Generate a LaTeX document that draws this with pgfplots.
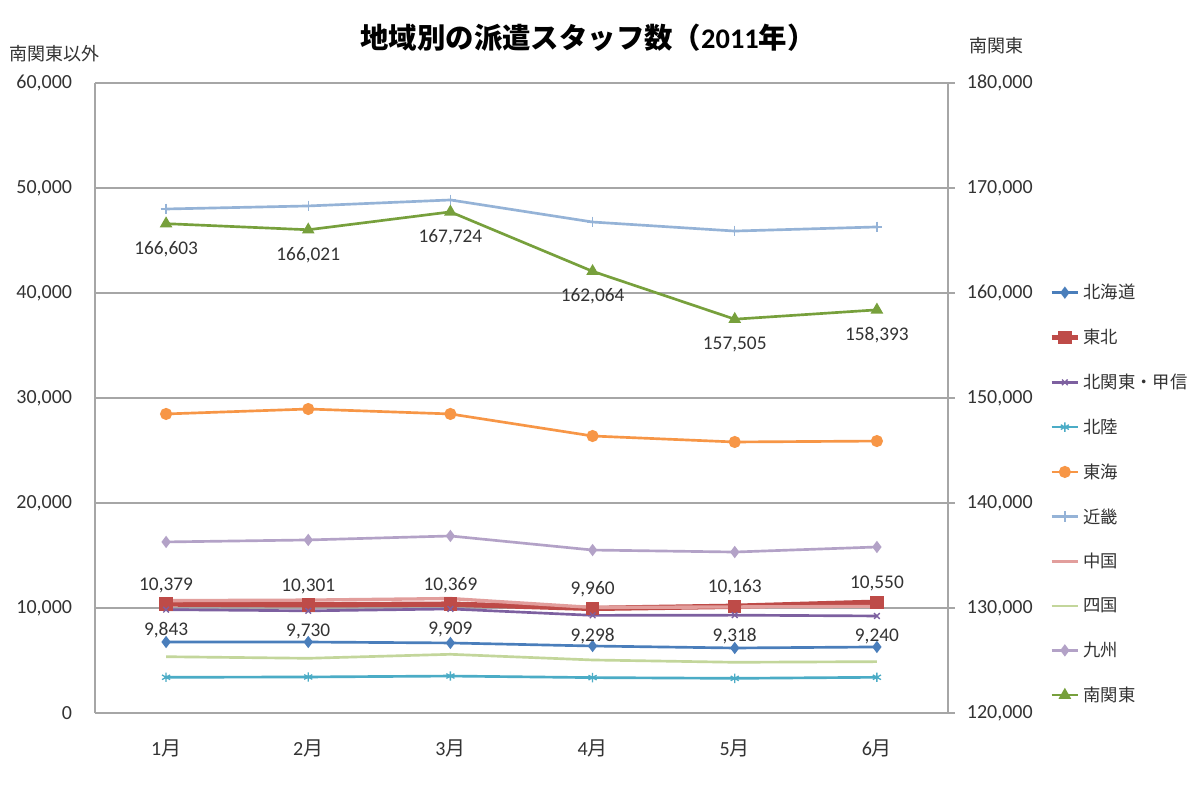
\documentclass[border=0pt]{standalone}
\usepackage{fontspec}
\setmainfont{Carlito}
\newfontfamily\jp{Noto Sans CJK JP}
\usepackage{pgfplots}
\pgfplotsset{compat=1.18}
\definecolor{cHok}{HTML}{4A7EBB}
\definecolor{cToh}{HTML}{BE4B48}
\definecolor{cKit}{HTML}{7D60A0}
\definecolor{cHkr}{HTML}{4BACC6}
\definecolor{cTok}{HTML}{F79646}
\definecolor{cKin}{HTML}{95B3D7}
\definecolor{cChu}{HTML}{E29E9C}
\definecolor{cShi}{HTML}{C3D69B}
\definecolor{cKyu}{HTML}{B3A2C7}
\definecolor{cMin}{HTML}{77A03C}
\definecolor{cGrid}{HTML}{A6A6A6}
\definecolor{cTxt}{HTML}{333333}
\begin{document}
\begin{tikzpicture}[x=1pt,y=1pt]
\path[fill=white] (0,0) rectangle (900,591);
\node[font=\jp\bfseries\fontsize{21.3}{25}\selectfont] at ({588*0.75},{(788-38)*0.75}) {地域別の派遣スタッフ数（{\rmfamily\bfseries 2011}年）};
\node[font=\jp\fontsize{13.5}{16}\selectfont, color=cTxt] at ({54*0.75},{(788-54)*0.75}) {南関東以外};
\node[font=\jp\fontsize{13.5}{16}\selectfont, color=cTxt] at ({996*0.75},{(788-46)*0.75}) {南関東};
\begin{axis}[
  at={(71.25pt,56.25pt)}, anchor=south west,
  scale only axis, width=639.75pt, height=472.5pt,
  xmin=-0.5, xmax=5.5, ymin=0, ymax=60000,
  xtick={0,...,5},
  xticklabels={1{\jp 月},2{\jp 月},3{\jp 月},4{\jp 月},5{\jp 月},6{\jp 月}},
  ytick={0,10000,...,60000},
  scaled y ticks=false,
  axis x line*=bottom, axis y line*=left,
  axis line style={draw=cGrid, line width=0.8pt, -},
  ymajorgrids, grid style={draw=cGrid, line width=0.8pt},
  major tick length=0pt,
  tick label style={font=\fontsize{15}{18}\selectfont, color=cTxt},
  yticklabel style={anchor=east, inner sep=0pt, xshift=-17pt},
  xticklabel style={anchor=north, inner sep=0pt, yshift=-20pt},
  /pgf/number format/.cd, fixed, precision=0, 1000 sep={,}, assume math mode=true,
  /pgfplots/.cd,
  legend style={at={(axis description cs:1.118,0.685)}, anchor=north west, draw=none, fill=none,
    font=\jp\fontsize{13}{15}\selectfont, text=cTxt, row sep=17.2pt, inner sep=0pt},
  legend cell align=left,
  legend image code/.code={\draw[mark repeat=2,mark phase=2] plot coordinates {(0cm,0cm) (0.35cm,0cm) (0.7cm,0cm)};},
  every axis plot/.append style={line width=2pt},
  clip=false,
]
% 北海道
\addplot[color=cHok, mark=diamond*, mark size=3pt] coordinates {(0,6760) (1,6760) (2,6670) (3,6380) (4,6190) (5,6290)};
\addlegendentry{北海道}
% 東北
\addplot[color=cToh, line width=4pt, mark=square*, mark size=3pt,
  nodes near coords, every node near coord/.append style={font=\fontsize{14.5}{17}\selectfont, color=cTxt, anchor=south, inner sep=0pt, yshift=6.5pt}]
  coordinates {(0,10379) (1,10301) (2,10369) (3,9960) (4,10163) (5,10550)};
\addlegendentry{東北}
% 北関東・甲信
\addplot[color=cKit, mark=x, mark size=3pt, mark options={line width=1pt},
  nodes near coords, every node near coord/.append style={font=\fontsize{14.5}{17}\selectfont, color=cTxt, anchor=north, inner sep=0pt, yshift=-9pt}]
  coordinates {(0,9843) (1,9730) (2,9909) (3,9298) (4,9318) (5,9240)};
\addlegendentry{北関東・甲信}
% 北陸
\addplot[color=cHkr, mark=asterisk, mark size=3.5pt, mark options={line width=1pt}] coordinates {(0,3400) (1,3430) (2,3520) (3,3370) (4,3300) (5,3400)};
\addlegendentry{北陸}
% 東海
\addplot[color=cTok, mark=*, mark size=3.5pt] coordinates {(0,28480) (1,28950) (2,28480) (3,26380) (4,25810) (5,25900)};
\addlegendentry{東海}
% 近畿
\addplot[color=cKin, mark=+, mark size=4pt, mark options={line width=1pt}] coordinates {(0,48000) (1,48290) (2,48860) (3,46760) (4,45900) (5,46290)};
\addlegendentry{近畿}
% 中国
\addplot[color=cChu, line width=2.5pt, mark=none] coordinates {(0,10700) (1,10750) (2,10900) (3,10050) (4,10100) (5,10150)};
\addlegendentry{中国}
% 四国
\addplot[color=cShi, mark=none] coordinates {(0,5360) (1,5210) (2,5590) (3,5050) (4,4830) (5,4890)};
\addlegendentry{四国}
% 九州
\addplot[color=cKyu, mark=diamond*, mark size=3pt] coordinates {(0,16290) (1,16480) (2,16860) (3,15520) (4,15330) (5,15810)};
\addlegendentry{九州}
\addlegendimage{color=cMin, line width=2pt, mark=triangle*, mark size=3.5pt}
\addlegendentry{南関東}
\end{axis}
\begin{axis}[
  at={(71.25pt,56.25pt)}, anchor=south west,
  scale only axis, width=639.75pt, height=472.5pt,
  xmin=-0.5, xmax=5.5, ymin=120000, ymax=180000,
  axis x line=none, axis y line*=right,
  ytick={120000,130000,...,180000},
  scaled y ticks=false,
  axis line style={draw=cGrid, line width=0.8pt, -},
  major tick length=5pt, tick align=outside, tick style={draw=cGrid, line width=0.8pt},
  tick label style={font=\fontsize{15}{18}\selectfont, color=cTxt},
  yticklabel style={anchor=west, inner sep=0pt, xshift=9pt},
  /pgf/number format/.cd, fixed, precision=0, 1000 sep={,}, assume math mode=true,
  /pgfplots/.cd,
  clip=false,
]
\addplot[color=cMin, line width=2pt, mark=triangle*, mark size=3.5pt,
  nodes near coords, every node near coord/.append style={font=\fontsize{14.5}{17}\selectfont, color=cTxt, anchor=north, inner sep=0pt, yshift=-12pt}]
  coordinates {(0,166603) (1,166021) (2,167724) (3,162064) (4,157505) (5,158393)};
\end{axis}
\end{tikzpicture}
\end{document}
